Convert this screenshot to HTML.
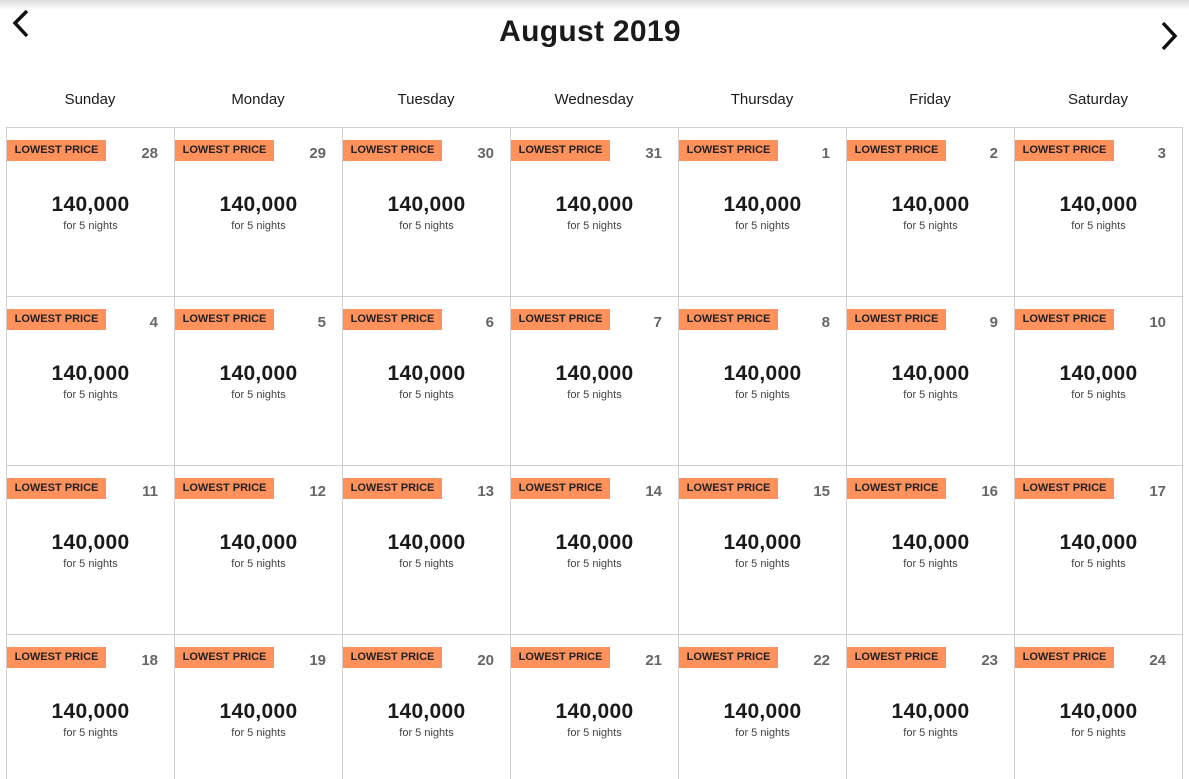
<!DOCTYPE html>
<html><head><style>
html,body{margin:0;width:1189px;height:779px;overflow:hidden}
body{background:#fff;font-family:"Liberation Sans",sans-serif;position:relative;color:#1a1a1a}
.sh{position:absolute;left:0;top:0;width:1189px;height:10px;background:linear-gradient(#ddd,#fff)}
.t{position:absolute;left:0;width:1180px;top:15px;text-align:center;font-weight:bold;font-size:30px;letter-spacing:0.3px}
.d{position:absolute;top:91px;width:168px;text-align:center;font-size:15px}
.c{position:absolute;width:167px;height:168px;border:1px solid #d0d0d0;box-sizing:content-box}
.b{position:absolute;left:0;top:12px;width:99px;height:21px;background:#ff915c;font-size:11px;font-weight:bold;line-height:21px;text-align:center;color:#222}
.n{position:absolute;right:16px;top:17px;font-size:15px;font-weight:bold;color:#666}
.p{position:absolute;left:0;width:167px;top:65px;text-align:center;font-size:21px;font-weight:bold;letter-spacing:0.3px}
.s{position:absolute;left:0;width:167px;top:92px;text-align:center;font-size:11px;color:#444}
#g{position:absolute;left:0;top:0;width:1189px;height:779px;overflow:hidden}
</style></head><body>
<div class="sh"></div>
<svg style="position:absolute;left:10px;top:9px" width="22" height="30"><polyline points="17,2 5,14 17,27" fill="none" stroke="#111" stroke-width="3.5"/></svg>
<svg style="position:absolute;left:1158px;top:21px" width="22" height="30"><polyline points="5,2 17,15 5,28" fill="none" stroke="#111" stroke-width="3.5"/></svg>
<div class="t">August 2019</div>
<div id="g"></div>
<script>
var days=["Sunday","Monday","Tuesday","Wednesday","Thursday","Friday","Saturday"],h="";
days.forEach(function(d,i){h+='<div class="d" style="left:'+(6+i*168)+'px">'+d+'</div>';});
var nums=[28,29,30,31,1,2,3];for(var k=4;k<=24;k++)nums.push(k);
for(var r=0;r<4;r++)for(var c=0;c<7;c++){var n=nums[r*7+c];
h+='<div class="c" style="left:'+(6+c*168)+'px;top:'+(127+r*169)+'px"><div class="b">LOWEST PRICE</div><div class="n">'+n+'</div><div class="p">140,000</div><div class="s">for 5 nights</div></div>';}
document.getElementById("g").innerHTML=h;
</script>
</body></html>
